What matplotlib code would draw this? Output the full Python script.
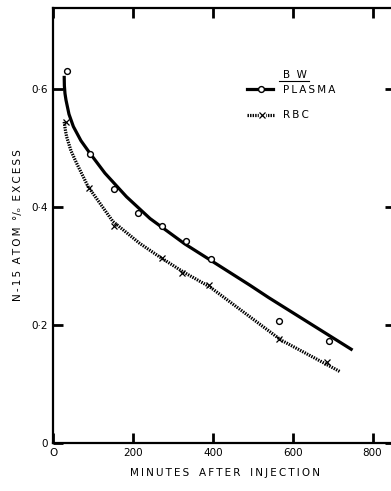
import matplotlib
matplotlib.use("Agg")
import matplotlib.pyplot as plt

# Measured points
plasma_t = [35, 92, 153, 212, 272, 332, 395, 566, 691]
plasma_v = [0.630, 0.490, 0.430, 0.390, 0.368, 0.342, 0.312, 0.207, 0.173]
rbc_t = [32, 91, 153, 272, 324, 391, 567, 687]
rbc_v = [0.544, 0.432, 0.367, 0.313, 0.287, 0.268, 0.176, 0.136]

# Fitted curves
plasma_fit_t = [28, 28.5, 30, 32.5, 40, 51, 70, 90, 130, 184, 243, 330, 393, 493, 540, 750]
plasma_fit_v = [0.622, 0.605, 0.592, 0.581, 0.557, 0.536, 0.512, 0.493, 0.457, 0.417, 0.380, 0.337, 0.310, 0.267, 0.246, 0.157]
rbc_fit_t = [28, 31, 34, 45, 59, 88, 150, 217, 267, 325, 393, 571, 720]
rbc_fit_v = [0.544, 0.530, 0.519, 0.495, 0.474, 0.434, 0.375, 0.338, 0.315, 0.290, 0.264, 0.174, 0.120]

xticks = [0, 200, 400, 600, 800]
xticklabels = ["O", "200", "400", "600", "800"]
yticks = [0, 0.2, 0.4, 0.6]
yticklabels = ["0", "0\u00b72", "0\u00b74", "0\u00b76"]

def spaced(s):
    return "\u2009".join(s)

XMAX = 862
SC = 0.3994
fig = plt.figure(figsize=(3.91, 4.91), dpi=100)
ax = fig.add_axes([53/391, 48.3/491, XMAX*SC/391, 434.7/491])
ax.set_xlim(0, XMAX)
ax.set_ylim(0, 0.737)

ax.plot(plasma_fit_t, plasma_fit_v, color="black", lw=2.3, solid_capstyle="butt")
ax.plot(rbc_fit_t, rbc_fit_v, color="black", lw=2.3, linestyle=(0, (0.45, 0.35)))
ax.plot(plasma_t, plasma_v, linestyle="none", marker="o", ms=4.2, mfc="white",
        mec="black", mew=1.0)
ax.plot(rbc_t, rbc_v, linestyle="none", marker="x", ms=3.8, color="black", mew=0.9)

for s in ax.spines.values():
    s.set_linewidth(1.6)
ax.spines["right"].set_visible(False)

ax.set_xticks(xticks)
ax.set_xticklabels(xticklabels)
ax.set_yticks(yticks)
ax.set_yticklabels(yticklabels)
ax.tick_params(direction="in", length=7.5, width=2.0, top=True, right=True,
               labelsize=7.5, pad=4)
for t in ax.yaxis.get_major_ticks():
    t.tick2line.set_markersize(9)

ax.set_xlabel(spaced("MINUTES") + "   " + spaced("AFTER") + "   " + spaced("INJECTION"),
              fontsize=7.5, labelpad=7)
ax.set_ylabel(spaced("N-15") + "  " + spaced("ATOM") + "  \u00b0/\u2092  " + spaced("EXCESS"),
              fontsize=7.5, labelpad=6)

# Legend (manual)
tr = ax.transAxes
def ax_xy(px, py):
    x0, y0 = 53, 442.7
    return ((px - x0) / (XMAX*SC), (y0 - py) / 434.7)

bx, by = ax_xy(283, 75)
ax.text(bx, by, spaced("B") + "  " + spaced("W"), transform=tr, fontsize=7.5,
        ha="left", va="center")
u0 = ax_xy(279, 81); u1 = ax_xy(309, 81)
ax.plot([u0[0], u1[0]], [u0[1], u1[1]], transform=tr, color="black", lw=0.8)
p0 = ax_xy(247, 89); p1 = ax_xy(273, 89)
ax.plot([p0[0], p1[0]], [p0[1], p1[1]], transform=tr, color="black", lw=2.3)
pm = ax_xy(261, 89)
ax.plot([pm[0]], [pm[1]], transform=tr, marker="o", ms=4.2, mfc="white", mec="black", mew=1.0)
tx, ty = ax_xy(283, 90)
ax.text(tx, ty, spaced("PLASMA"), transform=tr, fontsize=7.5, ha="left", va="center")
r0 = ax_xy(247, 115); r1 = ax_xy(275, 115)
ax.plot([r0[0], r1[0]], [r0[1], r1[1]], transform=tr, color="black", lw=2.3,
        linestyle=(0, (0.45, 0.35)))
rm = ax_xy(262, 115)
ax.plot([rm[0]], [rm[1]], transform=tr, marker="s", ms=5, mfc="white", mec="white")
ax.plot([rm[0]], [rm[1]], transform=tr, marker="x", ms=3.8, color="black", mew=0.9)
tx, ty = ax_xy(283, 115)
ax.text(tx, ty, spaced("RBC"), transform=tr, fontsize=7.5, ha="left", va="center")

fig.savefig("out.png", dpi=100)
